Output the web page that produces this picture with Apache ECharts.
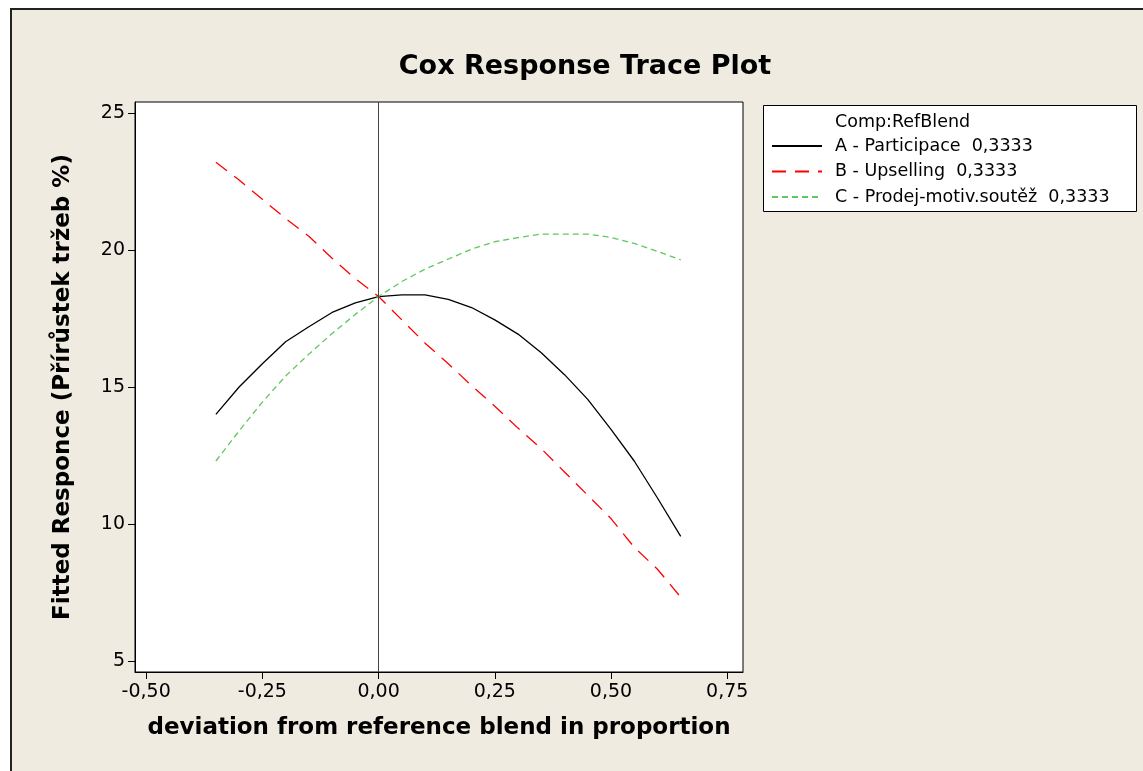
<!DOCTYPE html>
<html>
<head>
<meta charset="utf-8">
<script src="https://cdn.jsdelivr.net/npm/echarts@6/dist/echarts.min.js"></script>
<style>
  body { margin: 0; background: #ffffff; }
  #frame { position: absolute; left: 10px; top: 8px; width: 1143px; height: 771px;
           border-left: 2px solid #222; border-top: 2px solid #222; background: #efebe1; }
  #main { position: absolute; left: 0; top: 0; width: 1143px; height: 771px; }
</style>
</head>
<body>
<div id="frame"></div>
<div id="main"></div>
<script>
// deviation values along the trace
var deviation = [-0.35, -0.30, -0.25, -0.20, -0.15, -0.10, -0.05, 0.00, 0.05, 0.10, 0.15,
                 0.20, 0.25, 0.30, 0.35, 0.40, 0.45, 0.50, 0.55, 0.60, 0.65]
var participace = [14.0, 15.0, 15.85, 16.65, 17.2, 17.72, 18.07, 18.3, 18.36, 18.36, 18.2,
                   17.9, 17.45, 16.93, 16.25, 15.45, 14.55, 13.45, 12.3, 10.95, 9.55]
var upselling = [23.2, 22.55, 21.85, 21.15, 20.5, 19.7, 18.95, 18.3, 17.45, 16.6, 15.85,
                 15.05, 14.3, 13.5, 12.75, 11.9, 11.05, 10.2, 9.15, 8.35, 7.33]
var soutez = [12.3, 13.4, 14.45, 15.4, 16.2, 16.95, 17.65, 18.3, 18.85, 19.3, 19.67,
              20.03, 20.3, 20.45, 20.58, 20.58, 20.58, 20.46, 20.24, 19.95, 19.64]
var xTicks = [-0.50, -0.25, 0.00, 0.25, 0.50, 0.75]
var yTicks = [5, 10, 15, 20, 25]
var names = ['A - Participace  0,3333', 'B - Upselling  0,3333', 'C - Prodej-motiv.soutěž  0,3333']

function pairs(vals) {
    return deviation.map(function (d, i) { return [d, vals[i]] })
}

var font = 'DejaVu Sans'
var myChart = echarts.init(document.getElementById('main'))

var option = {
    animation: false,
    title: {
        text: 'Cox Response Trace Plot',
        left: 580,
        textAlign: 'center',
        top: 48,
        textStyle: { fontFamily: font, fontWeight: 'bold', fontSize: 27, color: '#000' }
    },
    grid: {
        left: 135, top: 102, width: 608, height: 570,
        show: true, backgroundColor: '#ffffff', borderColor: '#000', borderWidth: 1
    },
    legend: {
        orient: 'vertical',
        left: 771, top: 137,
        padding: 0,
        itemWidth: 50, itemHeight: 14, itemGap: 7.5,
        itemStyle: { opacity: 0 },
        textStyle: { fontFamily: font, fontSize: 17.5, color: '#000', padding: [0, 0, 0, 8] },
        data: names
    },
    graphic: [
        { type: 'rect', shape: { x: 763.5, y: 105.5, width: 373, height: 106 },
          style: { fill: '#fff', stroke: '#000', lineWidth: 1 }, z: 1 },
        { type: 'text', x: 835, y: 122, z: 5,
          style: { text: 'Comp:RefBlend', fontFamily: font, fontSize: 17.5, fill: '#000', verticalAlign: 'middle' } }
    ],
    xAxis: {
        type: 'value', min: -0.524, max: 0.784,
        name: 'deviation from reference blend in proportion',
        nameLocation: 'middle', nameGap: 45,
        nameTextStyle: { fontFamily: font, fontWeight: 'bold', fontSize: 23, color: '#000' },
        axisLine: { show: true, onZero: false, lineStyle: { color: '#000', width: 1 } },
        axisTick: { show: true, inside: false, length: 7, customValues: xTicks, lineStyle: { color: '#000' } },
        axisLabel: {
            customValues: xTicks, margin: 11, fontFamily: font, fontSize: 19, color: '#000',
            formatter: function (v) { return v.toFixed(2).replace('.', ',') }
        },
        splitLine: { show: false }
    },
    yAxis: {
        type: 'value', min: 4.6, max: 25.4,
        name: 'Fitted Responce (Přírůstek tržeb %)',
        nameLocation: 'middle', nameGap: 60,
        nameTextStyle: { fontFamily: font, fontWeight: 'bold', fontSize: 23, color: '#000' },
        axisLine: { show: true, onZero: false, lineStyle: { color: '#000', width: 1 } },
        axisTick: { show: true, inside: false, length: 7, customValues: yTicks, lineStyle: { color: '#000' } },
        axisLabel: { customValues: yTicks, margin: 10, fontFamily: font, fontSize: 19, color: '#000' },
        splitLine: { show: false }
    },
    series: [{
        name: names[0],
        type: 'line',
        symbol: 'none',
        data: pairs(participace),
        lineStyle: { color: '#000', width: 1.3, type: 'solid' },
        itemStyle: { color: '#000' },
        markLine: {
            silent: true, symbol: 'none', label: { show: false },
            lineStyle: { color: '#444', width: 1, type: 'solid' },
            data: [{ xAxis: 0 }]
        }
    }, {
        name: names[1],
        type: 'line',
        symbol: 'none',
        data: pairs(upselling),
        lineStyle: { color: '#ff0000', width: 1.3, type: [14, 9] },
        itemStyle: { color: '#ff0000' }
    }, {
        name: names[2],
        type: 'line',
        symbol: 'none',
        data: pairs(soutez),
        lineStyle: { color: '#5fc85f', width: 1.3, type: [6, 4] },
        itemStyle: { color: '#5fc85f' }
    }]
}
myChart.setOption(option)
</script>
</body>
</html>
